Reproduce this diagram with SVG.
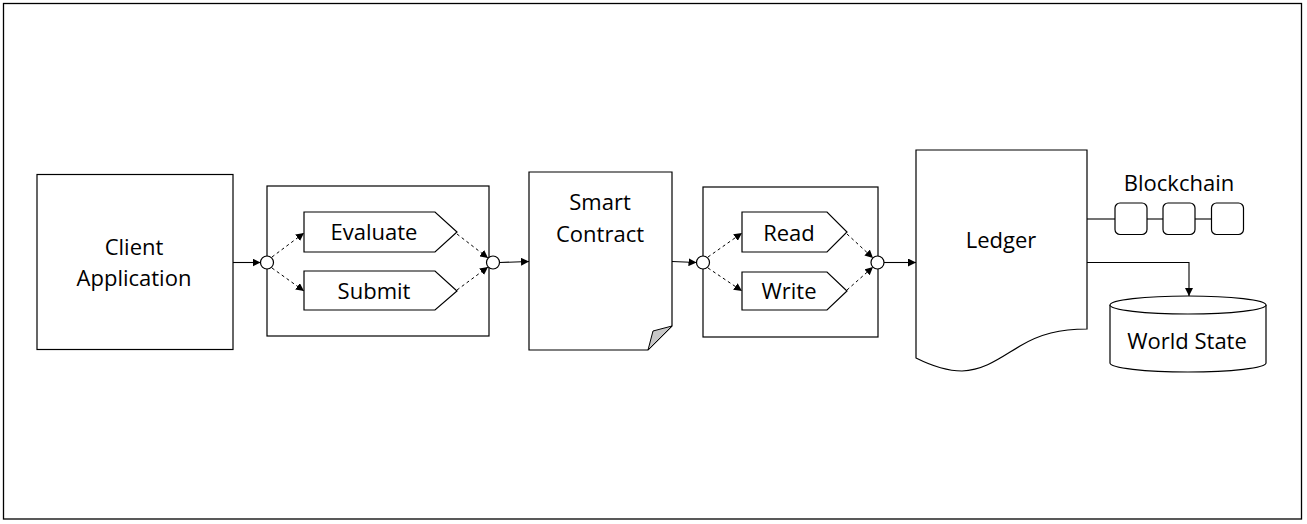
<svg xmlns="http://www.w3.org/2000/svg" width="1307" height="524" viewBox="0 0 1307 524">
<style>
  .s{fill:#fff;stroke:#000;stroke-width:1.2}
  .t{font-family:"Open Sans","Liberation Sans",sans-serif;font-size:22px;fill:#000;text-anchor:middle}
  .c{fill:none;stroke:#000;stroke-width:1.1}
  .d{fill:none;stroke:#000;stroke-width:1;stroke-dasharray:3 3}
</style>
<defs>
  <marker id="ah" viewBox="0 0 10 10" refX="10" refY="5" markerWidth="8" markerHeight="8" markerUnits="userSpaceOnUse" orient="auto">
    <path d="M0,0 L10,5 L0,10 Z" fill="#000"/>
  </marker>
</defs>
<rect x="0" y="0" width="1307" height="524" fill="#fff"/>
<rect x="3.5" y="3.5" width="1298" height="515.5" fill="none" stroke="#000" stroke-width="1.3"/>

<g id="client">
  <rect class="s" x="37" y="174.5" width="196" height="175"/>
  <text class="t" x="134" y="255">Client</text>
  <text class="t" x="134" y="286">Application</text>
</g>

<g id="group1">
  <rect class="s" x="267" y="186" width="222" height="150"/>
</g>
<g id="evaluate">
  <path class="s" d="M304,212 H435 L457,232 L435,252 H304 Z"/>
  <text class="t" x="374" y="240">Evaluate</text>
</g>
<g id="submit">
  <path class="s" d="M304,271 H435 L457,291 L435,310 H304 Z"/>
  <text class="t" x="374" y="299">Submit</text>
</g>

<g id="smartcontract">
  <path class="s" d="M529,172 H672 V326 L648,350 H529 Z"/>
  <path d="M648,350 L653,331 L672,326 Z" fill="#c8c8c8" stroke="#000" stroke-width="1"/>
  <text class="t" x="600" y="210">Smart</text>
  <text class="t" x="600" y="242">Contract</text>
</g>

<g id="group2">
  <rect class="s" x="703" y="187" width="175" height="150"/>
</g>
<g id="read">
  <path class="s" d="M742,212 H827 L847,232 L827,252 H742 Z"/>
  <text class="t" x="789" y="241">Read</text>
</g>
<g id="write">
  <path class="s" d="M742,272 H827 L847,291 L827,310 H742 Z"/>
  <text class="t" x="789" y="299">Write</text>
</g>

<g id="ledger">
  <path class="s" d="M916,150 H1087 V329 C1060,329 1040,334 1020,346 C1000,358 985,370 962,371 C945,371 930,365 916,358 Z"/>
  <text class="t" x="1001" y="248">Ledger</text>
</g>

<g id="blockchain">
  <text class="t" x="1179" y="191">Blockchain</text>
  <rect class="s" x="1115" y="203" width="32" height="31.5" rx="5"/>
  <rect class="s" x="1163" y="203" width="32" height="31.5" rx="5"/>
  <rect class="s" x="1211.5" y="203" width="32" height="31.5" rx="5"/>
</g>

<g id="worldstate">
  <path class="s" d="M1110,305 V363 A78,9 0 0 0 1266,363 V305"/>
  <ellipse class="s" cx="1188" cy="305" rx="78" ry="9"/>
  <text class="t" x="1187" y="349">World State</text>
</g>

<g id="junctions">
  <circle class="s" cx="267" cy="262.5" r="6.5"/>
  <circle class="s" cx="493" cy="262.5" r="6.5"/>
  <circle class="s" cx="703" cy="262.5" r="6.5"/>
  <circle class="s" cx="877.5" cy="262.5" r="6.5"/>
</g>

<g id="connectors">
  <line class="c" x1="233" y1="262.5" x2="260.5" y2="262.5" marker-end="url(#ah)"/>
  <line class="d" x1="272" y1="257" x2="304" y2="233" marker-end="url(#ah)"/>
  <line class="d" x1="272" y1="268" x2="304" y2="291" marker-end="url(#ah)"/>
  <line class="d" x1="457" y1="234" x2="488" y2="258" marker-end="url(#ah)"/>
  <line class="d" x1="457" y1="290" x2="488" y2="267" marker-end="url(#ah)"/>
  <line class="c" x1="499.5" y1="262.5" x2="529" y2="261.5" marker-end="url(#ah)"/>
  <line class="c" x1="672" y1="261.5" x2="696.5" y2="262.5" marker-end="url(#ah)"/>
  <line class="d" x1="708" y1="257" x2="742" y2="233" marker-end="url(#ah)"/>
  <line class="d" x1="708" y1="268" x2="742" y2="291" marker-end="url(#ah)"/>
  <line class="d" x1="847" y1="234" x2="873" y2="258" marker-end="url(#ah)"/>
  <line class="d" x1="847" y1="290" x2="873" y2="267" marker-end="url(#ah)"/>
  <line class="c" x1="884" y1="262.5" x2="916" y2="262.5" marker-end="url(#ah)"/>
  <line class="c" x1="1087" y1="219" x2="1115" y2="219"/>
  <line class="c" x1="1147" y1="219" x2="1163" y2="219"/>
  <line class="c" x1="1195" y1="219" x2="1211.5" y2="219"/>
  <path class="c" d="M1087,262.5 H1189 V296" marker-end="url(#ah)"/>
</g>
</svg>
